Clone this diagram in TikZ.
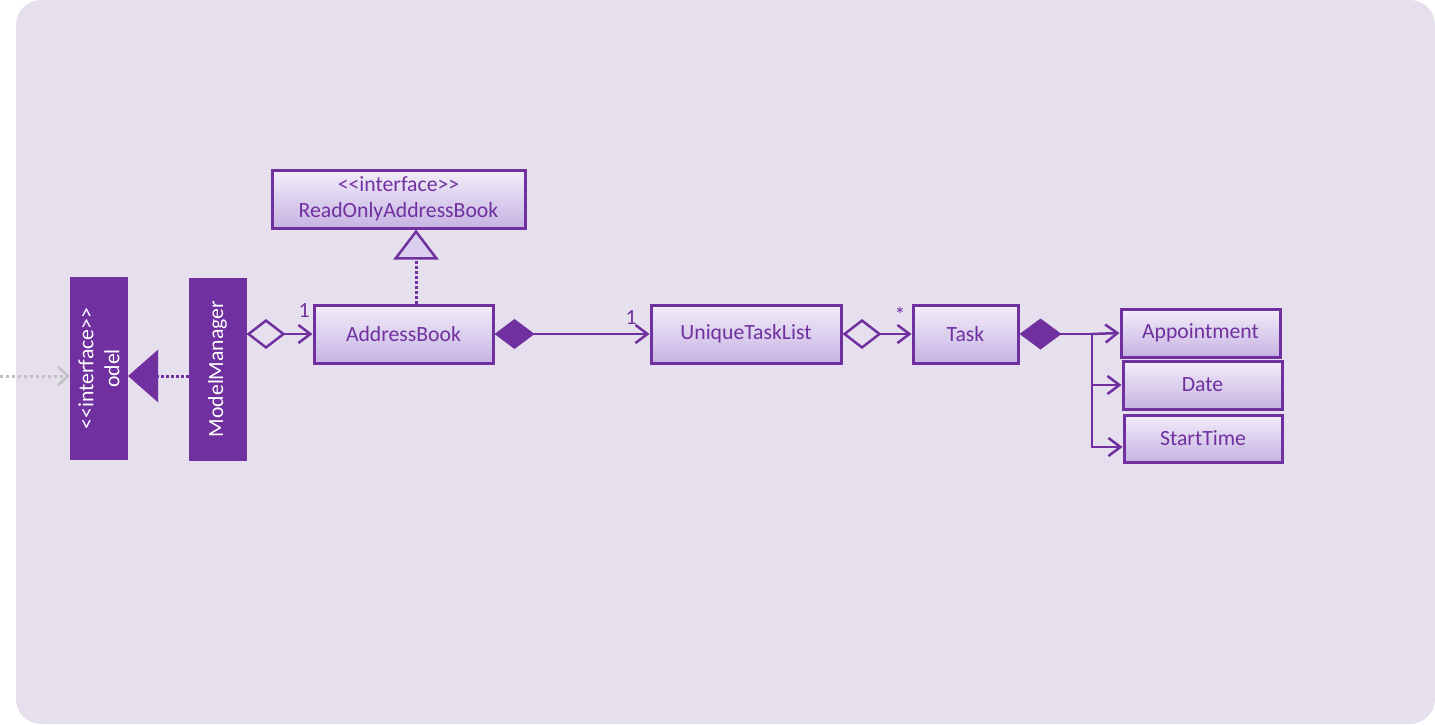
\documentclass[tikz,border=0pt]{standalone}
\usepackage{fontspec}
\setmainfont{Carlito}[Ligatures=TeXOff]
\usetikzlibrary{arrows.meta,calc}
\definecolor{purp}{HTML}{7030A0}
\definecolor{bg}{HTML}{E6E0EE}
\definecolor{btop}{HTML}{F2EDF9}
\definecolor{bbot}{HTML}{C6B3E2}
\definecolor{tri}{HTML}{DCCEEE}
\definecolor{gr}{HTML}{BFBFBF}
\begin{document}
\begin{tikzpicture}[x=1pt,y=-1pt,
  txt/.style={font=\fontsize{21.7}{25.5}\selectfont},
  cls/.style={txt, draw=purp, line width=3pt, top color=btop, bottom color=bbot,
    text=purp, inner sep=0pt, align=center},
  dark/.style={txt, fill=purp, draw=purp, line width=1pt, text=white, rotate=90,
    inner sep=0pt, align=center, minimum width=182pt, minimum height=57pt},
  conn/.style={draw=purp, line width=2.5pt},
  dotline/.style={draw=purp, line width=3pt, dash pattern=on 3pt off 2pt},
  lbl/.style={txt, text=purp, inner sep=0pt},
  barb/.tip={Straight Barb[length=12pt,width=18pt,line width=2.5pt]},
]
\useasboundingbox (0,0) rectangle (1435,725);
\fill[bg, rounded corners=25pt] (16,0) rectangle (1435,724);

% dark boxes
\node[dark, font=\fontsize{21.7}{26}\selectfont] (model) at (99,368.5) {<<interface>>\\odel};
\node[dark] (mm) at (217.5,369) {ModelManager};

% class boxes
\node[cls, minimum width=253pt, minimum height=58pt] (ro) at (398.5,199) {<<interface>>\\ReadOnlyAddressBook};
\node[cls, minimum width=179pt, minimum height=58pt] (ab) at (403.5,334) {AddressBook};
\node[cls, minimum width=190pt, minimum height=58pt] (utl) at (746,334) {UniqueTaskList};
\node[cls, minimum width=105pt, minimum height=58pt] (task) at (965.5,334) {Task};
\node[cls, minimum width=159pt, minimum height=48pt] (appt) at (1200.5,333) {Appointment};
\node[cls, minimum width=159pt, minimum height=48pt] (date) at (1202.5,385) {Date};
\node[cls, minimum width=158pt, minimum height=47pt] (st) at (1203,438.5) {StartTime};

% left arrows
\coordinate (yl) at (0,376);
\draw[gr, line width=3pt, dash pattern=on 3pt off 3pt, -{Straight Barb[length=10pt,width=18pt,line width=2.5pt]}]
  (yl) -- (model.north |- yl);
\draw[dotline, -{Triangle[length=30pt,width=52pt]}] (mm.north |- yl) -- (model.south |- yl);

% aggregation ModelManager -> AddressBook
\draw[conn, {Diamond[open,length=39pt,width=30pt,line width=2.5pt]}-barb] (mm.south |- ab.west) -- (ab.west);
\node[lbl] (l1) at (304,311) {1};

% realization AddressBook -> ReadOnlyAddressBook
\draw[dotline, -{Triangle[fill=tri,length=30pt,width=45pt,line width=2.5pt]}]
  ([xshift=12.5pt]ab.north) -- ([xshift=12.5pt]ab.north |- ro.south);

% composition AddressBook -> UniqueTaskList
\draw[conn, {Diamond[length=40pt,width=30pt]}-barb] (ab.east) -- (utl.west);
\node[lbl] (l2) at (631,318) {1};

% aggregation UniqueTaskList -> Task
\draw[conn, {Diamond[open,length=39pt,width=30pt,line width=2.5pt]}-barb] (utl.east) -- (task.west);
\node[lbl] (l3) at (900,315) {*};

% composition Task -> fields
\coordinate (j) at (1092,334);
\draw[conn, {Diamond[length=42pt,width=31pt]}-] (task.east) -- (j);
\draw[conn, -barb] (j) -- (appt.west);
\draw[conn, -barb] (j) |- (date.west);
\draw[conn, -barb] (j) |- ([yshift=-8.5pt]st.west);
\end{tikzpicture}
\end{document}
